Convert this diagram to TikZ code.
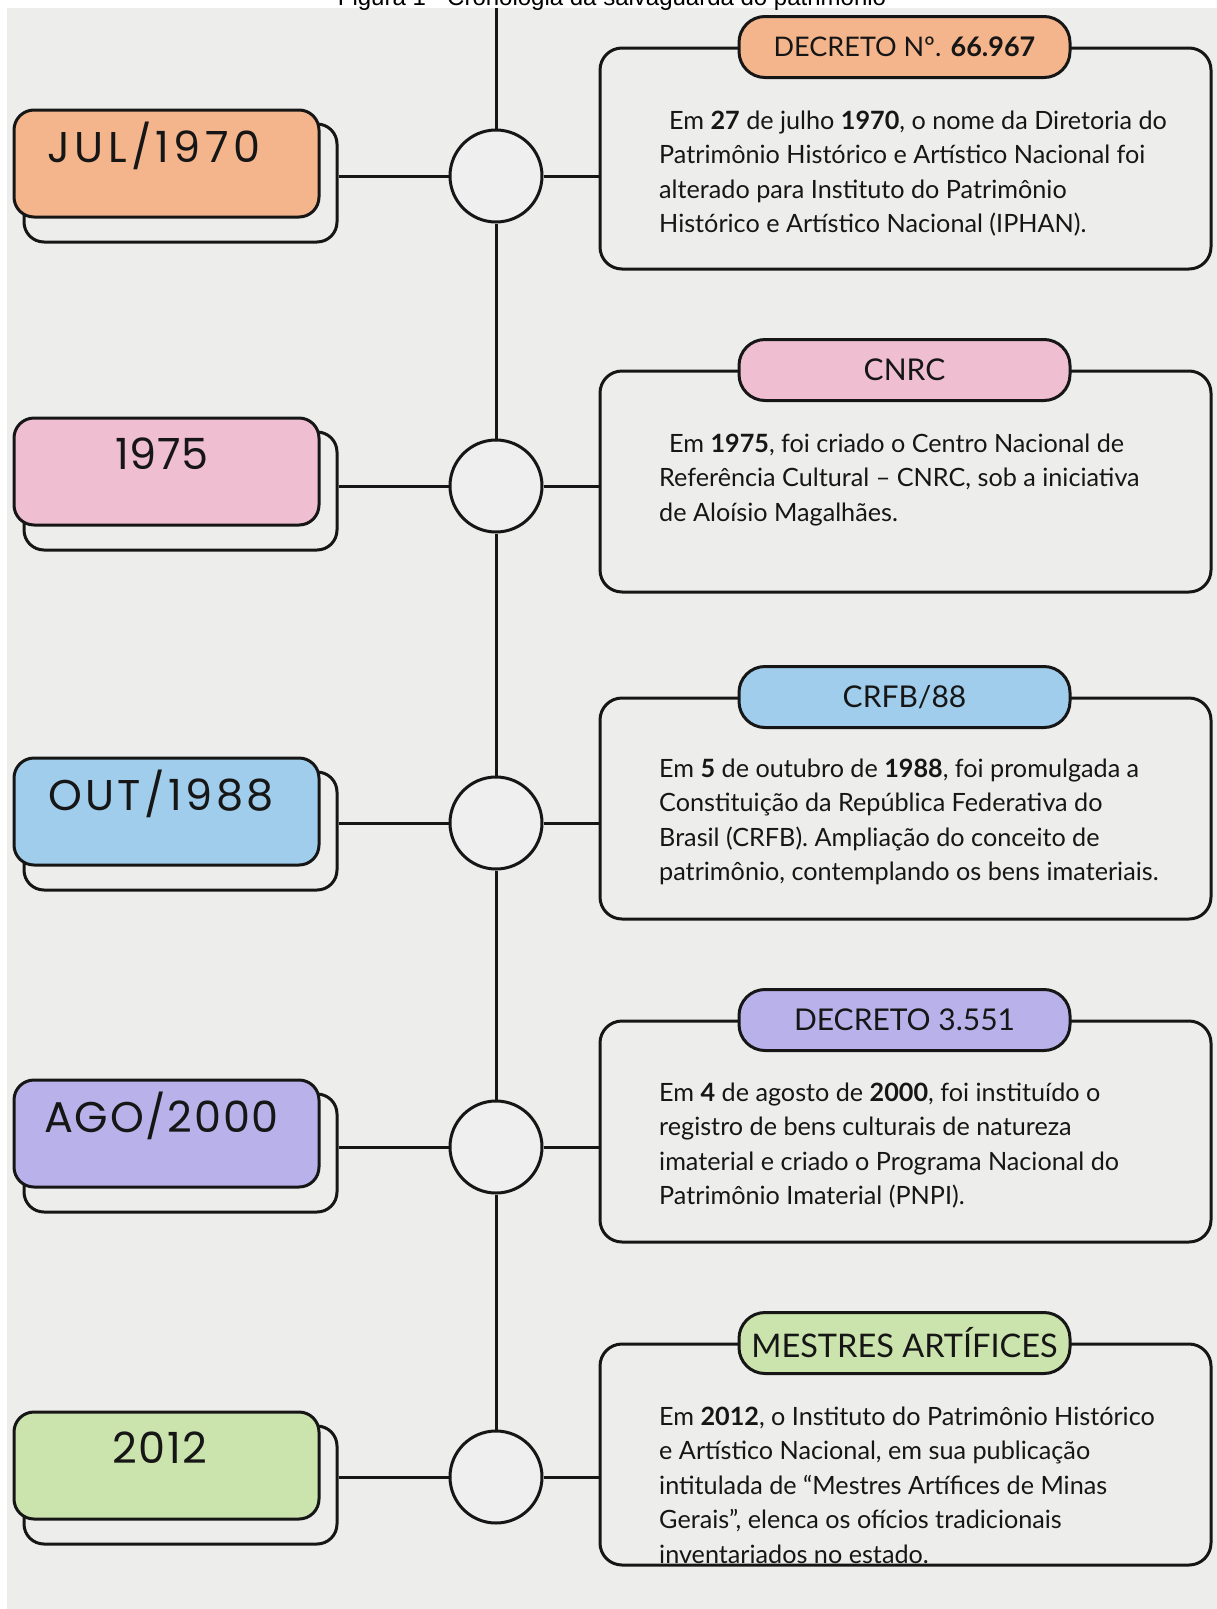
\documentclass[tikz,border=0pt]{standalone}
\usepackage{fontspec}
\setmainfont{Lato}
\newfontfamily\datefont{Poppins}
\newfontfamily\capfont{Liberation Sans}
\definecolor{paper}{HTML}{EDEDEB}
\definecolor{circfill}{HTML}{EFEFEF}
\definecolor{ink}{HTML}{161616}
\definecolor{cOrange}{HTML}{F4B58C}
\definecolor{cPink}{HTML}{EFBED1}
\definecolor{cBlue}{HTML}{9FCDEB}
\definecolor{cPurple}{HTML}{B9B2EA}
\definecolor{cGreen}{HTML}{CBE3AC}
\tikzset{
  ln/.style={draw=ink, line width=3pt},
  circ/.style={ln, circle, fill=circfill, minimum size=92pt, inner sep=0pt},
  frontbox/.style={ln, rectangle, rounded corners=20pt, minimum width=305pt, minimum height=107pt, inner sep=0pt},
  shadowbox/.style={ln, rectangle, rounded corners=20pt, minimum width=313pt, minimum height=118pt, inner sep=0pt},
  datelbl/.style={font=\datefont\fontsize{43}{48}\selectfont, text=ink, inner sep=0pt},
  bigbox/.style={ln, rectangle, rounded corners=22pt, minimum width=611pt, minimum height=221pt, inner sep=0pt},
  pill/.style={ln, rectangle, rounded corners=26pt, minimum width=331pt, minimum height=61pt, inner sep=0pt, text=ink, font=\fontsize{30}{33}\selectfont},
  bodyln/.style={anchor=base west, inner sep=0pt, text=ink, font=\fontsize{25.2}{30}\selectfont},
}
\begin{document}
\begin{tikzpicture}[x=1pt,y=-1pt]
\useasboundingbox (0,0) rectangle (1217,1609);
\fill[white] (0,0) rectangle (1217,1609);
\fill[paper] (7,8) rectangle (1217,1609);
\node[font=\capfont\fontsize{24}{28}\selectfont, anchor=base, inner sep=0pt] (cap) at (612,5) {Figura 1 - Cronologia da salvaguarda do patrimônio};

% circles
\node[circ] (c1) at (496,176) {};
\node[circ] (c2) at (496,486) {};
\node[circ] (c3) at (496,823) {};
\node[circ] (c4) at (496,1147) {};
\node[circ] (c5) at (496,1477) {};
\coordinate (top) at (496,8);
\draw[ln] (top) -- (c1.north);
\draw[ln] (c1.south) -- (c2.north);
\draw[ln] (c2.south) -- (c3.north);
\draw[ln] (c3.south) -- (c4.north);
\draw[ln] (c4.south) -- (c5.north);

% left date boxes (shadow, front, label)
\node[shadowbox] (s1) at (180.5,183) {};
\node[frontbox, fill=cOrange] (f1) at (166.5,163.5) {};
\node[datelbl] (d1) at (154,146) {\addfontfeature{LetterSpace=10}JUL/1970};

\node[shadowbox] (s2) at (180.5,491) {};
\node[frontbox, fill=cPink] (f2) at (166.5,471.5) {};
\node[datelbl] (d2) at (162,454) {\addfontfeature{LetterSpace=1}1975};

\node[shadowbox] (s3) at (180.5,831) {};
\node[frontbox, fill=cBlue] (f3) at (166.5,811.5) {};
\node[datelbl] (d3) at (161,794) {\addfontfeature{LetterSpace=8}OUT/1988};

\node[shadowbox] (s4) at (180.5,1153) {};
\node[frontbox, fill=cPurple] (f4) at (166.5,1133.5) {};
\node[datelbl] (d4) at (161.5,1116) {\addfontfeature{LetterSpace=4}AGO/2000};

\node[shadowbox] (s5) at (180.5,1485) {};
\node[frontbox, fill=cGreen] (f5) at (166.5,1465.5) {};
\node[datelbl] (d5) at (160,1448) {\addfontfeature{LetterSpace=3}2012};

% right boxes
\node[bigbox] (r1) at (905.5,158.5) {};
\node[pill, fill=cOrange, font=\fontsize{27}{30}\selectfont] (p1) at (904.5,47) {DECRETO Nº. \textbf{66.967}};
\node[bigbox] (r2) at (905.5,481.5) {};
\node[pill, fill=cPink] (p2) at (904.5,370) {CNRC};
\node[bigbox] (r3) at (905.5,808.5) {};
\node[pill, fill=cBlue] (p3) at (904.5,697) {CRFB/88};
\node[bigbox] (r4) at (905.5,1131.5) {};
\node[pill, fill=cPurple] (p4) at (904.5,1020) {DECRETO 3.551};
\node[bigbox] (r5) at (905.5,1454.5) {};
\node[pill, fill=cGreen, font=\fontsize{32.5}{35}\selectfont] (p5) at (904.5,1343) {MESTRES ARTÍFICES};

% connectors
\foreach \i in {1,...,5}{
  \draw[ln] (s\i.east |- c\i) -- (c\i.west);
  \draw[ln] (c\i.east) -- (r\i.west |- c\i);
}

% body texts
\node[bodyln] (t11) at (669,129) {Em \textbf{27} de julho \textbf{1970}, o nome da Diretoria do};
\node[bodyln] (t12) at (659,163.5) {Patrimônio Histórico e Artístico Nacional foi};
\node[bodyln] (t13) at (659,198) {alterado para Instituto do Patrimônio};
\node[bodyln] (t14) at (659,232.5) {Histórico e Artístico Nacional (IPHAN).};

\node[bodyln] (t21) at (669,452) {Em \textbf{1975}, foi criado o Centro Nacional de};
\node[bodyln] (t22) at (659,486.5) {Referência Cultural – CNRC, sob a iniciativa};
\node[bodyln] (t23) at (659,521) {de Aloísio Magalhães.};

\node[bodyln] (t31) at (659,777) {Em \textbf{5} de outubro de \textbf{1988}, foi promulgada a};
\node[bodyln] (t32) at (659,811.5) {Constituição da República Federativa do};
\node[bodyln] (t33) at (659,846) {Brasil (CRFB). Ampliação do conceito de};
\node[bodyln] (t34) at (659,880.5) {patrimônio, contemplando os bens imateriais.};

\node[bodyln] (t41) at (659,1101) {Em \textbf{4} de agosto de \textbf{2000}, foi instituído o};
\node[bodyln] (t42) at (659,1135.5) {registro de bens culturais de natureza};
\node[bodyln] (t43) at (659,1170) {imaterial e criado o Programa Nacional do};
\node[bodyln] (t44) at (659,1204.5) {Patrimônio Imaterial (PNPI).};

\node[bodyln] (t51) at (659,1425) {Em \textbf{2012}, o Instituto do Patrimônio Histórico};
\node[bodyln] (t52) at (659,1459.5) {e Artístico Nacional, em sua publicação};
\node[bodyln] (t53) at (659,1494) {intitulada de “Mestres Artífices de Minas};
\node[bodyln] (t54) at (659,1528.5) {Gerais”, elenca os ofícios tradicionais};
\node[bodyln] (t55) at (659,1563) {inventariados no estado.};
\end{tikzpicture}
\end{document}
